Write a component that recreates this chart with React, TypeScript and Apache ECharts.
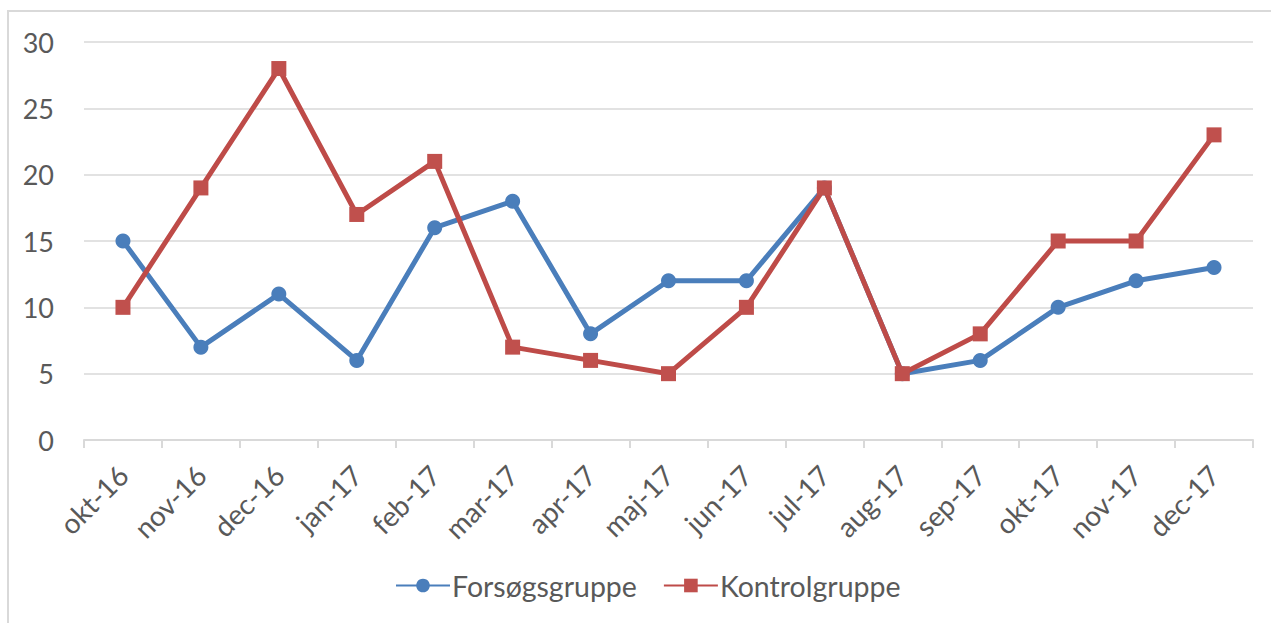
import React, { useEffect, useRef } from "react";
import * as echarts from "echarts";

const categories = ["okt-16", "nov-16", "dec-16", "jan-17", "feb-17", "mar-17", "apr-17", "maj-17", "jun-17", "jul-17", "aug-17", "sep-17", "okt-17", "nov-17", "dec-17"];
const forsoegsgruppe = [15, 7, 11, 6, 16, 18, 8, 12, 12, 19, 5, 6, 10, 12, 13];
const kontrolgruppe = [10, 19, 28, 17, 21, 7, 6, 5, 10, 19, 5, 8, 15, 15, 23];
const yTicks = { min: 0, max: 30, interval: 5 };

const FONT = "Lato, 'Open Sans', sans-serif";
const TXT = "#595959";
const GRID = "#d9d9d9";

export default function App() {
  const ref = useRef<HTMLDivElement>(null);
  useEffect(() => {
    if (!ref.current) return;
    const chart = echarts.init(ref.current, null, { renderer: "svg" });
    chart.setOption({
      animation: false,
      backgroundColor: "#ffffff",
      textStyle: { fontFamily: FONT },
      graphic: [
        {
          type: "rect",
          shape: { x: 8, y: 11, width: 2000, height: 2000 },
          style: { fill: "none", stroke: GRID, lineWidth: 2 },
          silent: true,
        },
      ],
      grid: { left: 84, right: 18, top: 42, bottom: 183, containLabel: false },
      legend: {
        bottom: 18,
        left: 390,
        itemWidth: 54,
        itemHeight: 17,
        itemGap: 26,
        textStyle: { fontSize: 28.5, color: TXT, fontFamily: FONT, padding: [0, 0, 0, -3] },
        data: ["Forsøgsgruppe", "Kontrolgruppe"],
      },
      xAxis: {
        type: "category",
        data: categories,
        boundaryGap: true,
        axisLine: { lineStyle: { color: GRID, width: 2 } },
        axisTick: { show: true, length: 8, lineStyle: { color: GRID, width: 2 }, alignWithLabel: false },
        axisLabel: { rotate: 45, fontSize: 28, color: TXT, fontFamily: FONT, margin: 30, interval: 0, verticalAlign: "middle", padding: [0, 0, 18, 0] },
        splitLine: { show: false },
      },
      yAxis: {
        type: "value",
        min: yTicks.min,
        max: yTicks.max,
        interval: yTicks.interval,
        axisLine: { show: false },
        axisTick: { show: false },
        axisLabel: { fontSize: 27, color: TXT, fontFamily: FONT, margin: 30 },
        splitLine: { lineStyle: { color: GRID, width: 1.5 } },
      },
      series: [
        {
          name: "Forsøgsgruppe",
          type: "line",
          data: forsoegsgruppe,
          symbol: "circle",
          symbolSize: 15,
          lineStyle: { color: "#4a7ebb", width: 5 },
          itemStyle: { color: "#4a7ebb" },
          z: 2,
        },
        {
          name: "Kontrolgruppe",
          type: "line",
          data: kontrolgruppe,
          symbol: "rect",
          symbolSize: 15,
          lineStyle: { color: "#be4b48", width: 5 },
          itemStyle: { color: "#c0504d" },
          z: 3,
        },
      ],
    });
    return () => chart.dispose();
  }, []);
  return <div ref={ref} style={{ position: "fixed", left: 0, top: 0, width: 1271, height: 623 }} />;
}
